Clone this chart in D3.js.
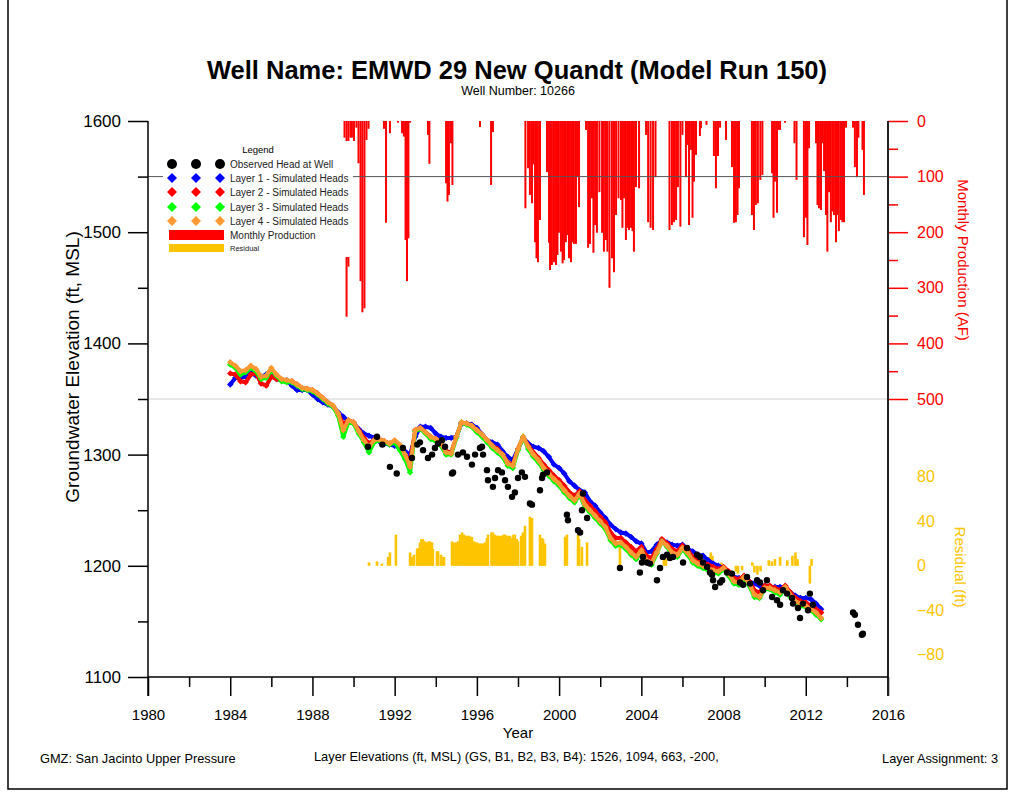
<!DOCTYPE html>
<html>
<head>
<meta charset="utf-8">
<script src="https://cdn.jsdelivr.net/npm/d3@7"></script>
<style>
  body { margin: 0; background: #fff; }
  svg { display: block; font-family: "Liberation Sans", Arial, sans-serif; }
</style>
</head>
<body>
<div id="chart"></div>
<script>

// simulated heads, one value per quarter starting jan 1984
var quarterStart = 1984
var quarterEnd = 2013

var layer1Heads = [
  1363, 1369, 1369, 1370, 1374, 1371, 1370, 1372, 1373, 1368, 1367, 1367,
  1362, 1358, 1358, 1358, 1354, 1350, 1347, 1345, 1343, 1338, 1334, 1330,
  1328, 1323, 1319, 1317, 1315, 1312, 1310, 1309, 1308, 1306, 1303, 1300,
  1316, 1325, 1325, 1324, 1319, 1316, 1315, 1315, 1316, 1328, 1328, 1327,
  1324, 1318, 1313, 1311, 1309, 1303, 1298, 1295, 1305, 1315, 1310, 1307,
  1306, 1303, 1298, 1291, 1288, 1283, 1276, 1272, 1268, 1266, 1258, 1254,
  1248, 1243, 1237, 1233, 1230, 1229, 1226, 1222, 1220, 1212, 1213, 1219,
  1223, 1221, 1219, 1218, 1219, 1215, 1213, 1210, 1209, 1205, 1202, 1200,
  1198, 1193, 1190, 1189, 1189, 1186, 1184, 1182, 1182, 1181, 1181, 1181,
  1180, 1176, 1173, 1171, 1171, 1170, 1166, 1161
]

var layer2Heads = [
  1373, 1372, 1366, 1365, 1372, 1373, 1364, 1362, 1370, 1368, 1367, 1366,
  1366, 1363, 1360, 1359, 1358, 1355, 1351, 1347, 1344, 1337, 1327, 1331,
  1329, 1322, 1315, 1310, 1313, 1314, 1312, 1310, 1312, 1307, 1300, 1294,
  1322, 1324, 1320, 1316, 1314, 1310, 1303, 1302, 1316, 1329, 1328, 1326,
  1322, 1318, 1313, 1308, 1305, 1300, 1293, 1291, 1305, 1316, 1308, 1302,
  1297, 1291, 1286, 1281, 1277, 1272, 1266, 1263, 1267, 1259, 1254, 1249,
  1244, 1239, 1230, 1225, 1225, 1221, 1217, 1213, 1217, 1209, 1207, 1215,
  1224, 1220, 1215, 1213, 1218, 1214, 1208, 1205, 1203, 1201, 1199, 1197,
  1199, 1195, 1189, 1188, 1191, 1186, 1178, 1176, 1182, 1182, 1180, 1178,
  1182, 1176, 1171, 1168, 1167, 1164, 1161, 1158
]

var layer3Heads = [
  1381, 1378, 1372, 1374, 1378, 1375, 1368, 1369, 1376, 1371, 1366, 1365,
  1365, 1362, 1359, 1358, 1357, 1354, 1350, 1346, 1343, 1335, 1316, 1329,
  1328, 1319, 1311, 1302, 1311, 1313, 1311, 1309, 1311, 1304, 1296, 1284,
  1321, 1323, 1319, 1314, 1312, 1308, 1300, 1300, 1315, 1329, 1327, 1325,
  1320, 1316, 1311, 1306, 1302, 1298, 1290, 1288, 1304, 1316, 1305, 1298,
  1293, 1286, 1281, 1276, 1272, 1266, 1261, 1257, 1264, 1253, 1248, 1243,
  1238, 1233, 1223, 1218, 1219, 1215, 1210, 1206, 1213, 1203, 1201, 1211,
  1222, 1217, 1210, 1208, 1215, 1210, 1203, 1200, 1198, 1196, 1194, 1193,
  1197, 1191, 1184, 1183, 1189, 1182, 1172, 1171, 1179, 1179, 1176, 1174,
  1180, 1172, 1166, 1164, 1163, 1160, 1156, 1152
]

var layer4Heads = [
  1383, 1380, 1375, 1376, 1380, 1377, 1370, 1371, 1378, 1372, 1368, 1367,
  1366, 1363, 1360, 1359, 1358, 1355, 1351, 1347, 1344, 1337, 1322, 1331,
  1329, 1321, 1313, 1307, 1313, 1314, 1312, 1310, 1313, 1309, 1300, 1289,
  1322, 1324, 1320, 1316, 1314, 1310, 1302, 1301, 1316, 1329, 1328, 1326,
  1322, 1318, 1313, 1308, 1304, 1300, 1292, 1290, 1305, 1316, 1307, 1300,
  1295, 1288, 1283, 1278, 1274, 1268, 1263, 1259, 1265, 1255, 1250, 1245,
  1240, 1235, 1225, 1220, 1221, 1217, 1212, 1208, 1214, 1205, 1203, 1212,
  1222, 1218, 1212, 1210, 1216, 1212, 1205, 1202, 1200, 1198, 1196, 1195,
  1198, 1193, 1186, 1185, 1190, 1184, 1174, 1172, 1180, 1180, 1178, 1176,
  1181, 1174, 1168, 1166, 1164, 1161, 1158, 1153
]

// observed head at well [year, ft msl]
var observedHeads = [
  [1990.70, 1307], [1991.14, 1316], [1991.40, 1309], [1991.77, 1289], [1992.10, 1283],
  [1992.40, 1306], [1992.84, 1297], [1993.10, 1309], [1993.23, 1311], [1993.38, 1304],
  [1993.62, 1297], [1993.82, 1300], [1993.96, 1306], [1994.11, 1310], [1994.30, 1313],
  [1994.45, 1307], [1994.79, 1283], [1994.84, 1284], [1995.08, 1300], [1995.32, 1302],
  [1995.52, 1298], [1995.76, 1291], [1995.91, 1300], [1996.15, 1306], [1996.25, 1307],
  [1996.30, 1300], [1996.49, 1286], [1996.54, 1277], [1996.78, 1271], [1996.88, 1279],
  [1997.03, 1286], [1997.22, 1284], [1997.37, 1277], [1997.51, 1271], [1997.71, 1262],
  [1997.85, 1266], [1998.00, 1279], [1998.19, 1284], [1998.34, 1280], [1998.58, 1256],
  [1998.68, 1255], [1999.07, 1268], [1999.17, 1279], [1999.22, 1282], [1999.41, 1284],
  [2000.38, 1246], [2000.43, 1241], [2000.92, 1232], [2001.02, 1230], [2001.11, 1250],
  [2001.16, 1265], [2001.36, 1243], [2002.96, 1198], [2003.93, 1194], [2004.03, 1203],
  [2004.08, 1208], [2004.28, 1203], [2004.42, 1202], [2004.76, 1187], [2004.91, 1198],
  [2005.05, 1208], [2005.25, 1210], [2005.39, 1207], [2005.54, 1208], [2006.03, 1203],
  [2006.22, 1216], [2006.71, 1210], [2006.85, 1208], [2007.00, 1203], [2007.20, 1199],
  [2007.34, 1194], [2007.44, 1192], [2007.49, 1187], [2007.59, 1181], [2007.83, 1185],
  [2007.93, 1187], [2008.17, 1194], [2008.41, 1193], [2008.80, 1185], [2008.95, 1183],
  [2009.14, 1190], [2009.29, 1184], [2009.63, 1187], [2009.77, 1185], [2009.92, 1178],
  [2010.11, 1187], [2010.36, 1172], [2010.60, 1169], [2010.75, 1165], [2010.89, 1178],
  [2011.09, 1175], [2011.33, 1171], [2011.38, 1166], [2011.62, 1162], [2011.72, 1153],
  [2011.86, 1166], [2012.11, 1160], [2012.20, 1175], [2012.35, 1165],
  [2014.30, 1158], [2014.39, 1156], [2014.54, 1147], [2014.73, 1138], [2014.78, 1139]
]

// monthly production [year, acre-feet]
var monthlyProduction = [
  [1989.56, 30], [1989.66, 352], [1989.75, 262], [1989.85, 30], [1989.92, 30],
  [1990.02, 36], [1990.14, 12], [1990.24, 76], [1990.34, 288], [1990.43, 344],
  [1990.53, 337], [1990.63, 34], [1990.73, 14],
  [1991.48, 14], [1991.58, 183], [1991.77, 22],
  [1992.16, 3], [1992.36, 22], [1992.45, 28], [1992.53, 214], [1992.60, 288],
  [1992.67, 211], [1992.75, 3],
  [1993.62, 25], [1993.69, 77],
  [1994.50, 112], [1994.57, 145], [1994.64, 133], [1994.74, 40], [1994.81, 115],
  [1996.15, 11], [1996.69, 115], [1996.78, 20],
  [1998.36, 157], [1998.49, 85], [1998.58, 133], [1998.68, 148], [1998.75, 78],
  [1998.83, 218], [1998.90, 247], [1998.97, 254], [1999.07, 178],
  [1999.41, 92], [1999.51, 219], [1999.56, 268], [1999.65, 259], [1999.75, 254],
  [1999.85, 259], [1999.92, 241], [1999.99, 201], [2000.09, 235], [2000.17, 256],
  [2000.24, 250], [2000.33, 218], [2000.41, 205], [2000.48, 247], [2000.58, 254],
  [2000.65, 218], [2000.72, 221], [2000.82, 221], [2000.89, 101], [2000.97, 155],
  [2001.31, 16], [2001.41, 228], [2001.50, 221], [2001.60, 139], [2001.67, 237],
  [2001.75, 187], [2001.84, 201], [2001.96, 128], [2002.09, 201], [2002.18, 235],
  [2002.28, 214], [2002.35, 235], [2002.45, 300], [2002.57, 247], [2002.67, 272],
  [2002.77, 169], [2002.89, 139], [2003.01, 142], [2003.08, 192], [2003.16, 139],
  [2003.25, 214], [2003.33, 192], [2003.40, 196], [2003.50, 192], [2003.57, 198],
  [2003.64, 235], [2003.74, 119], [2003.89, 121],
  [2004.23, 25], [2004.33, 182], [2004.45, 192], [2004.57, 196], [2004.69, 101],
  [2005.37, 196], [2005.49, 187], [2005.59, 182], [2005.69, 178], [2005.78, 119],
  [2005.90, 190], [2006.00, 25], [2006.17, 101], [2006.24, 43], [2006.32, 187],
  [2006.42, 52], [2006.49, 174], [2006.56, 109], [2006.66, 61], [2006.85, 27],
  [2006.90, 13], [2007.17, 7],
  [2007.53, 63], [2007.63, 121], [2007.73, 63], [2007.83, 12], [2008.12, 34],
  [2008.41, 83], [2008.51, 183], [2008.60, 182], [2008.68, 169], [2008.75, 121],
  [2009.38, 169], [2009.48, 196], [2009.57, 151], [2009.67, 148], [2009.79, 106],
  [2009.89, 97],
  [2010.36, 94], [2010.43, 174], [2010.50, 109], [2010.60, 165], [2010.67, 16],
  [2010.75, 16], [2010.99, 3],
  [2011.45, 40], [2011.55, 106],
  [2011.91, 209], [2012.01, 174], [2012.08, 223], [2012.16, 49],
  [2012.50, 40], [2012.57, 151], [2012.64, 157], [2012.74, 160], [2012.81, 40],
  [2012.89, 90], [2012.98, 169], [2013.05, 235], [2013.13, 128], [2013.22, 182],
  [2013.30, 163], [2013.37, 169], [2013.47, 218], [2013.54, 169], [2013.61, 198],
  [2013.71, 178], [2013.78, 182], [2013.86, 182], [2013.96, 12],
  [2014.30, 12], [2014.39, 83], [2014.49, 101], [2014.56, 30],
  [2014.76, 52], [2014.83, 133]
]

// residual [year, ft]
var residuals = [
  [1990.75, 3], [1991.14, 4], [1991.38, 2], [1991.68, 8], [1991.77, 12], [1992.06, 28],
  [1992.75, 12], [1992.84, 8], [1992.94, 10], [1993.09, 15], [1993.13, 16], [1993.23, 21],
  [1993.30, 24], [1993.38, 24], [1993.48, 22], [1993.57, 21], [1993.65, 22], [1993.72, 22],
  [1993.82, 21], [1993.86, 15], [1994.06, 13], [1994.11, 13], [1994.25, 10], [1994.35, 8],
  [1994.40, 8], [1994.79, 22], [1994.89, 21], [1994.98, 21], [1995.08, 22], [1995.18, 28],
  [1995.28, 30], [1995.37, 28], [1995.45, 27], [1995.52, 27], [1995.62, 27], [1995.69, 26],
  [1995.76, 26], [1995.86, 22], [1995.93, 21], [1996.01, 21], [1996.08, 20], [1996.15, 20],
  [1996.22, 20], [1996.30, 20], [1996.39, 21], [1996.49, 25], [1996.54, 28], [1996.71, 30],
  [1996.78, 30], [1996.88, 28], [1996.95, 27], [1997.03, 27], [1997.12, 27], [1997.22, 27],
  [1997.30, 28], [1997.37, 28], [1997.44, 27], [1997.51, 27], [1997.61, 27], [1997.71, 25],
  [1997.78, 28], [1997.85, 28], [1997.95, 24], [1998.00, 22], [1998.15, 27], [1998.24, 30],
  [1998.34, 36], [1998.58, 44], [1998.68, 43], [1999.07, 28], [1999.17, 25], [1999.22, 24],
  [1999.31, 20], [2000.29, 26], [2000.38, 28], [2000.92, 28], [2000.97, 24], [2001.11, 17],
  [2001.36, 21], [2002.96, 18],
  [2005.10, 10], [2005.20, 6], [2007.30, 8], [2007.38, 12], [2007.46, 9], [2007.90, 3],
  [2008.60, -5], [2008.70, -7], [2008.90, -4], [2009.40, 3], [2009.50, -6], [2009.65, -8],
  [2009.80, -5], [2010.20, 5], [2010.35, 4], [2010.50, 6], [2010.75, 8], [2011.10, 5],
  [2011.35, 9], [2011.50, 12], [2011.60, 6], [2012.20, -16], [2012.28, 6]
]

// tick labels
var elevTicks = [1100, 1200, 1300, 1400, 1500, 1600]
var elevMinorTicks = [1150, 1250, 1350, 1450, 1550]
var yearTicks = [1980, 1984, 1988, 1992, 1996, 2000, 2004, 2008, 2012, 2016]
var yearMinorTicks = [1982, 1986, 1990, 1994, 1998, 2002, 2006, 2010, 2014]
var prodTicks = [0, 100, 200, 300, 400, 500]
var prodMinorTicks = [50, 150, 250, 350, 450]
var residTicks = [80, 40, 0, -40, -80]

var layerNames = ['Layer 1 - Simulated Heads', 'Layer 2 - Simulated Heads',
  'Layer 3 - Simulated Heads', 'Layer 4 - Simulated Heads']
var layerColors = ['#0000ff', '#ff0000', '#00ff00', '#ff9933']
var prodColor = '#ff0000'
var residColor = '#ffc400'

var width = 1016
var height = 792

var svg = d3.select('#chart').append('svg')
  .attr('width', width)
  .attr('height', height)

// page frame
svg.append('path')
  .attr('d', 'M8,0 V789 H1007 V0')
  .attr('fill', 'none')
  .attr('stroke', '#000')
  .attr('stroke-width', 1.5)

var x = d3.scaleLinear().domain([1980, 2016]).range([148, 888])
var y = d3.scaleLinear().domain([1100, 1600]).range([677, 121])
var yProd = d3.scaleLinear().domain([0, 500]).range([121, 399])
// residual shares the elevation scale, 0 sits on 1200
var yResid = d3.scaleLinear().domain([-80, 80]).range([y(1200) + 89, y(1200) - 89])

var quarters = d3.range(quarterStart, quarterEnd, 0.25)

// production bars hang from the top
svg.append('g')
  .selectAll('rect')
  .data(monthlyProduction)
  .enter().append('rect')
    .attr('x', function(d) { return x(d[0]) - 1 })
    .attr('y', yProd(0))
    .attr('width', 2)
    .attr('height', function(d) { return yProd(d[1]) - yProd(0) })
    .attr('fill', prodColor)

// reference lines
svg.append('line')
  .attr('x1', x(1980)).attr('x2', x(2016))
  .attr('y1', y(1550)).attr('y2', y(1550))
  .attr('stroke', '#555').attr('stroke-width', 1)
svg.append('line')
  .attr('x1', x(1980)).attr('x2', x(2016))
  .attr('y1', y(1350)).attr('y2', y(1350))
  .attr('stroke', '#d0d0d0').attr('stroke-width', 1)

// residual bars
svg.append('g')
  .selectAll('rect')
  .data(residuals)
  .enter().append('rect')
    .attr('x', function(d) { return x(d[0]) - 1.3 })
    .attr('y', function(d) { return Math.min(yResid(d[1]), yResid(0)) })
    .attr('width', 2.6)
    .attr('height', function(d) { return Math.abs(yResid(d[1]) - yResid(0)) })
    .attr('fill', residColor)

// simulated heads
var diamond = 'M0,-3.2L3.2,0L0,3.2L-3.2,0Z'
var headLine = d3.line()
  .x(function(d) { return x(d.t) })
  .y(function(d) { return y(d.v) })

var layers = [layer1Heads, layer2Heads, layer3Heads, layer4Heads]
layers.forEach(function(values, i) {
  var pts = values.map(function(v, k) { return {t: quarters[k], v: v} })
  var g = svg.append('g')
  g.append('path')
    .datum(pts)
    .attr('d', headLine)
    .attr('fill', 'none')
    .attr('stroke', layerColors[i])
    .attr('stroke-width', 4)
    .attr('stroke-linejoin', 'round')
  g.selectAll('path.mk')
    .data(pts)
    .enter().append('path')
      .attr('class', 'mk')
      .attr('d', diamond)
      .attr('transform', function(d) { return 'translate(' + x(d.t) + ',' + y(d.v) + ')' })
      .attr('fill', layerColors[i])
})

// observed heads
svg.append('g')
  .selectAll('circle')
  .data(observedHeads)
  .enter().append('circle')
    .attr('cx', function(d) { return x(d[0]) })
    .attr('cy', function(d) { return y(d[1]) })
    .attr('r', 3.2)
    .attr('fill', '#000')

// axes
function styleAxis(g, color, size) {
  g.selectAll('.domain').remove()
  g.selectAll('.tick line').attr('stroke', color).attr('stroke-width', 1.5)
  g.selectAll('.tick text').attr('fill', color).style('font-size', size + 'px')
    .style('font-family', '"Liberation Sans", Arial, sans-serif')
}

var leftAxis = svg.append('g')
  .attr('transform', 'translate(' + x(1980) + ',0)')
  .call(d3.axisLeft(y).tickValues(elevTicks).tickSize(20).tickPadding(7).tickFormat(d3.format('d')))
styleAxis(leftAxis, '#000', 17)
var leftMinor = svg.append('g')
  .attr('transform', 'translate(' + x(1980) + ',0)')
  .call(d3.axisLeft(y).tickValues(elevMinorTicks).tickSize(10).tickFormat(''))
styleAxis(leftMinor, '#000', 10)

var bottomAxis = svg.append('g')
  .attr('transform', 'translate(0,' + y(1100) + ')')
  .call(d3.axisBottom(x).tickValues(yearTicks).tickSize(19).tickPadding(13).tickFormat(d3.format('d')))
styleAxis(bottomAxis, '#000', 15)
var bottomMinor = svg.append('g')
  .attr('transform', 'translate(0,' + y(1100) + ')')
  .call(d3.axisBottom(x).tickValues(yearMinorTicks).tickSize(10).tickFormat(''))
styleAxis(bottomMinor, '#000', 10)

var rightAxis = svg.append('g')
  .attr('transform', 'translate(' + x(2016) + ',0)')
  .call(d3.axisRight(yProd).tickValues(prodTicks).tickSize(20).tickPadding(9))
styleAxis(rightAxis, prodColor, 16)
var rightMinor = svg.append('g')
  .attr('transform', 'translate(' + x(2016) + ',0)')
  .call(d3.axisRight(yProd).tickValues(prodMinorTicks).tickSize(10).tickFormat(''))
styleAxis(rightMinor, prodColor, 10)

var residAxis = svg.append('g')
  .attr('transform', 'translate(' + x(2016) + ',0)')
  .call(d3.axisRight(yResid).tickValues(residTicks).tickSize(0).tickPadding(29))
styleAxis(residAxis, residColor, 16)

// axis lines
svg.append('line')
  .attr('x1', x(1980)).attr('x2', x(1980))
  .attr('y1', y(1600)).attr('y2', y(1100) + 19)
  .attr('stroke', '#000').attr('stroke-width', 1.5)
svg.append('line')
  .attr('x1', x(2016)).attr('x2', x(2016))
  .attr('y1', y(1600)).attr('y2', y(1100) + 19)
  .attr('stroke', '#222').attr('stroke-width', 2)
svg.append('line')
  .attr('x1', x(1980)).attr('x2', x(2016))
  .attr('y1', y(1100)).attr('y2', y(1100))
  .attr('stroke', '#000').attr('stroke-width', 1.5)

// titles
svg.append('text')
  .attr('x', 517).attr('y', 79)
  .attr('text-anchor', 'middle')
  .style('font-size', '25.5px').style('font-weight', 'bold')
  .text('Well Name: EMWD 29 New Quandt (Model Run 150)')
svg.append('text')
  .attr('x', 518).attr('y', 95)
  .attr('text-anchor', 'middle')
  .style('font-size', '12.5px')
  .text('Well Number: 10266')

svg.append('text')
  .attr('transform', 'translate(79,367) rotate(-90)')
  .attr('text-anchor', 'middle')
  .style('font-size', '19px')
  .text('Groundwater Elevation (ft, MSL)')
svg.append('text')
  .attr('x', 518).attr('y', 738)
  .attr('text-anchor', 'middle')
  .style('font-size', '15px')
  .text('Year')
svg.append('text')
  .attr('transform', 'translate(958,260) rotate(90)')
  .attr('text-anchor', 'middle')
  .attr('fill', prodColor)
  .style('font-size', '15px')
  .text('Monthly Production (AF)')
svg.append('text')
  .attr('transform', 'translate(955,567) rotate(90)')
  .attr('text-anchor', 'middle')
  .attr('fill', residColor)
  .style('font-size', '15px')
  .text('Residual (ft)')

// footer
svg.append('text')
  .attr('x', 40).attr('y', 763)
  .style('font-size', '12.8px')
  .text('GMZ: San Jacinto Upper Pressure')
svg.append('text')
  .attr('x', 314).attr('y', 761)
  .style('font-size', '12.8px')
  .text('Layer Elevations (ft, MSL) (GS, B1, B2, B3, B4): 1526, 1094, 663, -200,')
svg.append('text')
  .attr('x', 998).attr('y', 763)
  .attr('text-anchor', 'end')
  .style('font-size', '12.8px')
  .text('Layer Assignment: 3')

// legend
var legend = svg.append('g').attr('transform', 'translate(163,141)')
legend.append('rect')
  .attr('width', 190).attr('height', 116)
  .attr('fill', '#fff')
legend.append('text')
  .attr('x', 95).attr('y', 12)
  .attr('text-anchor', 'middle')
  .style('font-size', '9.5px')
  .text('Legend')

var symX = [9, 33, 57]
var rowY = [23, 37, 51, 66, 80]
symX.forEach(function(sx) {
  legend.append('circle')
    .attr('cx', sx).attr('cy', rowY[0]).attr('r', 5)
    .attr('fill', '#000')
  layerColors.forEach(function(c, i) {
    legend.append('path')
      .attr('d', 'M0,-5L5,0L0,5L-5,0Z')
      .attr('transform', 'translate(' + sx + ',' + rowY[i + 1] + ')')
      .attr('fill', c)
  })
})
var legendLabels = ['Observed Head at Well'].concat(layerNames)
legendLabels.forEach(function(label, i) {
  legend.append('text')
    .attr('x', 67).attr('y', rowY[i] + 3.5)
    .style('font-size', '10px')
    .attr('fill', '#222')
    .text(label)
})
legend.append('rect')
  .attr('x', 6).attr('y', 89).attr('width', 55).attr('height', 10)
  .attr('fill', prodColor)
legend.append('text')
  .attr('x', 67).attr('y', 97.5)
  .style('font-size', '10px').attr('fill', '#222')
  .text('Monthly Production')
legend.append('rect')
  .attr('x', 6).attr('y', 103).attr('width', 55).attr('height', 8)
  .attr('fill', residColor)
legend.append('text')
  .attr('x', 67).attr('y', 110)
  .style('font-size', '7.5px').attr('fill', '#222')
  .text('Residual')

</script>
</body>
</html>
